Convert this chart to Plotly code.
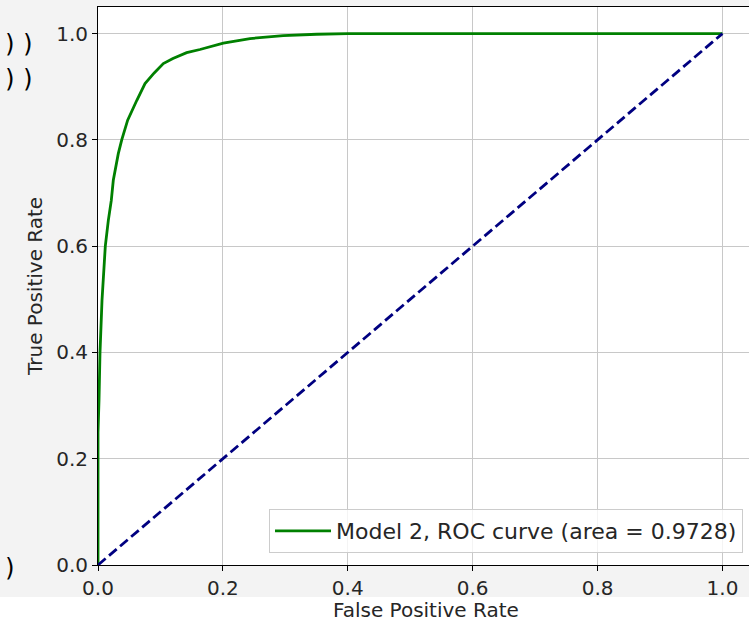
import plotly.graph_objects as go

# ROC curve data
fpr = [0.0, 0.0, 0.0016, 0.0032, 0.0064, 0.0117, 0.0165, 0.0213, 0.0245, 0.0325,
       0.038, 0.0475, 0.062, 0.0753, 0.090, 0.1046, 0.120, 0.142, 0.1633, 0.2007,
       0.2434, 0.2967, 0.350, 0.400, 1.0]
tpr = [0.0, 0.25, 0.31, 0.40, 0.498, 0.60, 0.648, 0.686, 0.724, 0.774,
       0.80, 0.837, 0.874, 0.906, 0.926, 0.9435, 0.953, 0.964, 0.970, 0.982,
       0.9906, 0.9962, 0.9987, 1.0, 1.0]
chance_x = [0.0, 1.0]
chance_y = [0.0, 1.0]
curve_label = "Model 2, ROC curve (area = 0.9728)"
tick_vals = [0.0, 0.2, 0.4, 0.6, 0.8, 1.0]
tick_text = ["0.0", "0.2", "0.4", "0.6", "0.8", "1.0"]

FONT = "DejaVu Sans"
TXT = "#262626"

fig = go.Figure()
fig.add_trace(go.Scatter(x=fpr, y=tpr, mode="lines", name=curve_label,
                         line=dict(color="#008000", width=2.8)))
fig.add_trace(go.Scatter(x=chance_x, y=chance_y, mode="lines", showlegend=False,
                         line=dict(color="#000080", width=2.8, dash="10px,4.5px")))

W, H = 749, 622
L, R, T, B = 98, 0, 7, 57

fig.update_layout(
    width=W, height=H,
    margin=dict(l=L, r=R, t=T, b=B, pad=0, autoexpand=False),
    paper_bgcolor="#f3f3f3",
    plot_bgcolor="white",
    font=dict(family=FONT, size=20, color=TXT),
    showlegend=True,
    legend=dict(x=(743 - L) / (W - L - R), y=0.0215, xanchor="right", yanchor="bottom",
                bgcolor="rgba(255,255,255,0.8)", bordercolor="#cccccc", borderwidth=1,
                itemwidth=56,
                font=dict(family=FONT, size=22, color=TXT)),
    xaxis=dict(range=[0, 1.0425], tickvals=tick_vals, ticktext=tick_text,
               automargin=False,
               showgrid=True, gridcolor="#c8c8c8", gridwidth=1, zeroline=False,
               showline=True, linecolor="black", linewidth=1, mirror=True,
               ticks="outside", ticklen=5, tickcolor="black", tickwidth=1,
               tickfont=dict(family=FONT, size=20, color=TXT)),
    yaxis=dict(range=[0, 1.05], tickvals=tick_vals, ticktext=tick_text,
               automargin=False,
               showgrid=True, gridcolor="#c8c8c8", gridwidth=1, zeroline=False,
               showline=True, linecolor="black", linewidth=1, mirror=False,
               ticks="outside", ticklen=5, tickcolor="black", tickwidth=1,
               tickfont=dict(family=FONT, size=20, color=TXT)),
    shapes=[dict(type="rect", xref="paper", yref="paper", layer="below",
                 x0=-0.2, x1=1.1, y0=-(597 - 565) / 558 - 0.2, y1=-(597 - 565) / 558,
                 fillcolor="white", line=dict(width=0))],
)

pw = W - L - R
ph = H - T - B


def px_to_paper(px, py):
    return (px - L) / pw, (H - B - py) / ph


annos = []
xp, yp = px_to_paper(0, 610)
annos.append(dict(text="False Positive Rate", x=0.525, xref="x", y=yp, yref="paper",
                  showarrow=False, xanchor="center", yanchor="middle",
                  font=dict(family=FONT, size=20, color=TXT)))
xp, yp = px_to_paper(35, 287)
annos.append(dict(text="True Positive Rate", x=xp, xref="paper", y=yp, yref="paper",
                  showarrow=False, xanchor="center", yanchor="middle", textangle=-90,
                  font=dict(family=FONT, size=20, color=TXT)))
for (cx, cy) in [(10, 44), (28, 44), (10, 79), (28, 79), (10, 568)]:
    xp, yp = px_to_paper(cx, cy)
    annos.append(dict(text=")", x=xp, xref="paper", y=yp, yref="paper",
                      showarrow=False, xanchor="center", yanchor="middle",
                      font=dict(family="DejaVu Sans Mono", size=24, color="black")))
fig.update_layout(annotations=annos)

fig.write_html("out.html",
               config={"displayModeBar": False},
               post_script="document.body.style.margin='0px';"
                           "document.body.style.overflow='hidden';")
